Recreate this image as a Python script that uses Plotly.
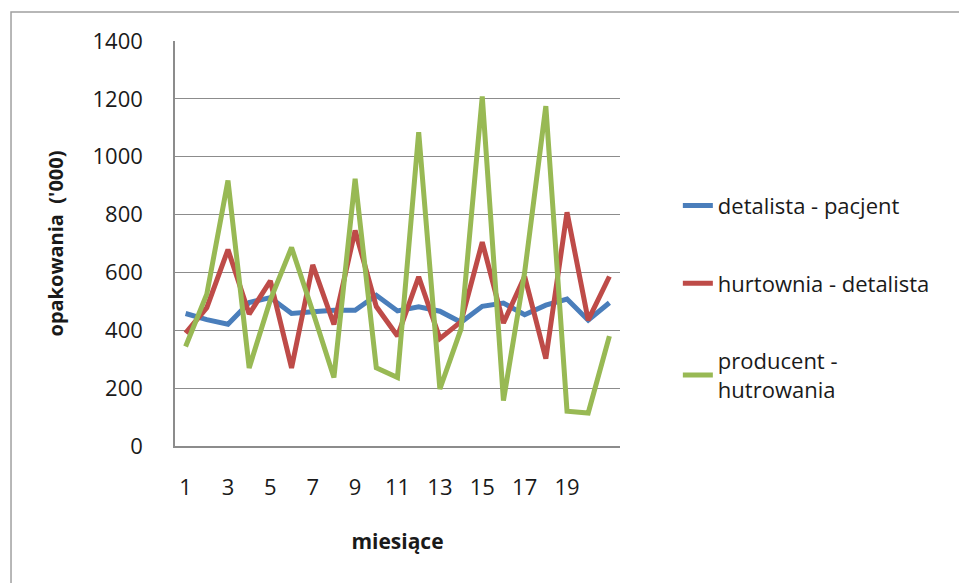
import plotly.graph_objects as go

months = list(range(1, 22))
detalista_pacjent = [458, 437, 421, 496, 513, 458, 464, 469, 469, 521, 467, 481, 466, 428, 483, 494, 454, 487, 508, 435, 495]
hurtownia_detalista = [390, 478, 679, 456, 571, 270, 626, 420, 745, 482, 380, 585, 371, 430, 705, 425, 586, 302, 808, 435, 586]
producent_hutrowania = [344, 525, 918, 270, 505, 686, 465, 237, 924, 270, 237, 1085, 197, 405, 1208, 157, 600, 1175, 120, 114, 380]
series_names = ["detalista - pacjent", "hurtownia - detalista", "producent -<br>hutrowania"]
series_colors = ["#4A7EBB", "#BE4B48", "#98B954"]
x_tickvals = list(range(1, 20, 2))
y_tickvals = list(range(0, 1401, 200))

FONT = "Open Sans"
TXT = "#1a1a1a"

fig = go.Figure()
for i, (name, vals, col) in enumerate(zip(series_names,
                                           [detalista_pacjent, hurtownia_detalista, producent_hutrowania],
                                           series_colors)):
    fig.add_trace(go.Scatter(x=months, y=vals, mode="lines", name=name,
                             legendgroup=f"g{i}",
                             line=dict(color=col, width=5)))

fig.update_layout(
    width=959, height=583,
    margin=dict(l=175, r=339, t=41, b=137),
    paper_bgcolor="white", plot_bgcolor="white",
    font=dict(family=FONT, size=22, color=TXT),
    showlegend=True,
    legend=dict(x=1.13, xanchor="left", y=0.645, yanchor="top",
                traceorder="grouped", tracegroupgap=46,
                font=dict(family=FONT, size=22, color=TXT),
                bgcolor="rgba(0,0,0,0)"),
    xaxis=dict(range=[0.5, 21.5], tickmode="array", tickvals=x_tickvals,
               showgrid=False, zeroline=False, showline=True, linecolor="#8c8c8c",
               linewidth=1.5, ticks="", ticklabelstandoff=21,
               tickfont=dict(family=FONT, size=22, color=TXT),
               title=dict(text="<b>miesiące</b>", standoff=34,
                          font=dict(family=FONT, size=21, color=TXT))),
    yaxis=dict(range=[0, 1400], tickmode="array", tickvals=y_tickvals,
               showgrid=True, gridcolor="#8c8c8c", gridwidth=1.3,
               zeroline=False, showline=True, linecolor="#8c8c8c", linewidth=1.5,
               ticks="", ticklabelstandoff=26,
               tickfont=dict(family=FONT, size=22, color=TXT),
               title=dict(text="<b>opakowania  ('000)</b>", standoff=24,
                          font=dict(family=FONT, size=20, color=TXT))),
    shapes=[dict(type="rect", xref="paper", yref="paper",
                 x0=-0.3685, x1=1.8, y0=-0.4, y1=1.0716,
                 line=dict(color="#a0a0a0", width=1.5), layer="below")],
)

fig.write_html("out.html")
